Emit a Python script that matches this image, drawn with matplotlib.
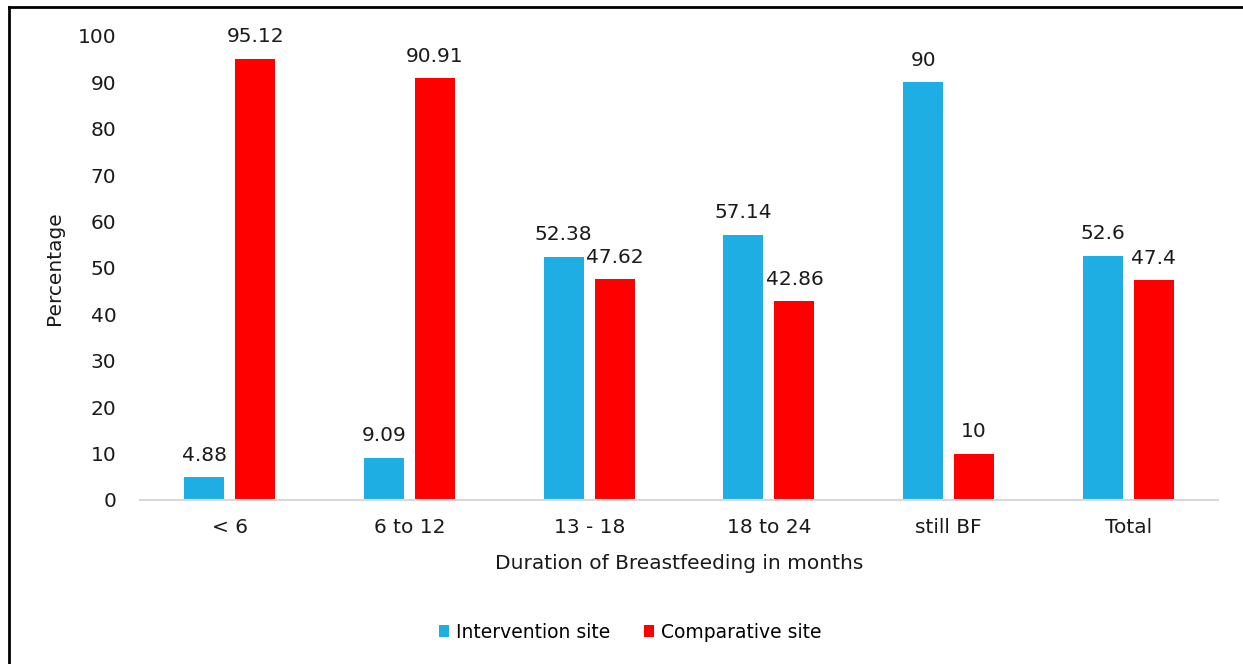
import matplotlib.pyplot as plt
from matplotlib.lines import Line2D
import numpy as np

categories = ["< 6", "6 to 12", "13 - 18", "18 to 24", "still BF", "Total"]
intervention = [4.88, 9.09, 52.38, 57.14, 90, 52.6]
comparative = [95.12, 90.91, 47.62, 42.86, 10, 47.4]
intervention_labels = ["4.88", "9.09", "52.38", "57.14", "90", "52.6"]
comparative_labels = ["95.12", "90.91", "47.62", "42.86", "10", "47.4"]

plt.rcParams['font.family'] = ['DejaVu Sans']

BLUE = "#1FAEE3"
RED = "#FF0000"
TXT = "#1a1a1a"
FS = 14.5

fig = plt.figure(figsize=(12.43, 6.64), dpi=100)
ax = fig.add_axes([0.1126, 0.247, 0.8674, 0.6988])

x = np.arange(len(categories))
w = 0.223
off = 0.142
b1 = ax.bar(x - off, intervention, w, color=BLUE, label="Intervention site")
b2 = ax.bar(x + off, comparative, w, color=RED, label="Comparative site")

for bars, labs in ((b1, intervention_labels), (b2, comparative_labels)):
    for rect, lab in zip(bars, labs):
        ax.annotate(lab, (rect.get_x() + rect.get_width() / 2, rect.get_height()),
                    xytext=(0, 9), textcoords="offset points", ha="center", va="bottom",
                    fontsize=FS, color=TXT, annotation_clip=False)

ax.set_xlim(-0.5, len(categories) - 0.5)
ax.set_ylim(0, 100)
ax.set_yticks(range(0, 101, 10))
ax.set_xticks(x)
ax.set_xticklabels(categories)
ax.tick_params(axis="both", length=0, labelsize=FS, colors=TXT)
ax.tick_params(axis="y", pad=17)
ax.tick_params(axis="x", pad=13)
for s in ("top", "right", "left"):
    ax.spines[s].set_visible(False)
ax.spines["bottom"].set_color("#d9d9d9")
ax.spines["bottom"].set_linewidth(1.5)

ax.set_ylabel("Percentage", fontsize=FS, color=TXT, labelpad=10)
ax.set_xlabel("Duration of Breastfeeding in months", fontsize=FS, color=TXT, labelpad=12)

fig.legend(handles=[b1, b2], loc="center", bbox_to_anchor=(0.507, 0.048), ncol=2,
           frameon=False, fontsize=13.5, handlelength=0.55, handleheight=0.55,
           handletextpad=0.35, columnspacing=1.8)

# outer frame lines (top and left)
fig.add_artist(Line2D([9 / 1243, 1], [1 - 7 / 664, 1 - 7 / 664], color="black", lw=2,
                      transform=fig.transFigure))
fig.add_artist(Line2D([9 / 1243, 9 / 1243], [0, 1 - 7 / 664], color="black", lw=2,
                      transform=fig.transFigure))

fig.savefig("out.png", dpi=100)
